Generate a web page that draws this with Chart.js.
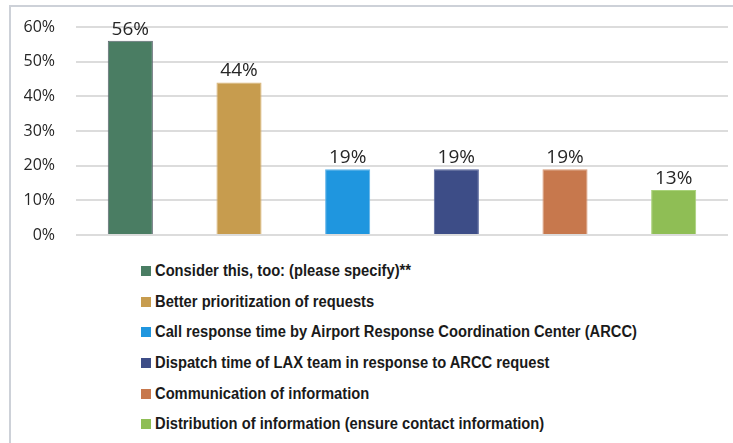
<!DOCTYPE html>
<html>
<head>
<meta charset="utf-8">
<script src="https://cdn.jsdelivr.net/npm/chart.js@4.4.1/dist/chart.umd.min.js"></script>
<style>
  html, body { margin: 0; padding: 0; background: #fff; }
  #wrap { position: relative; width: 733px; height: 443px; overflow: hidden; }
  #frame { position: absolute; left: 9px; top: 5px; width: 740px; height: 450px;
           border-top: 2px solid #cdd1d8; border-left: 2px solid #cdd1d8; }
  #barChart { position: absolute; left: 0; top: 0; }
  #legend { position: absolute; left: 141px; top: 256px; margin: 0; padding: 0; list-style: none; }
  #legend li { display: flex; align-items: center; height: 30.6px;
               font-family: "Liberation Sans Narrow", "Arial Narrow", "Liberation Sans", sans-serif;
               font-weight: bold; font-size: 16px; color: #1a1a1a; white-space: nowrap; }
  #legend .box { width: 10px; height: 10px; margin-right: 4px; flex: none; }
  #legend .txt { display: inline-block; transform: scaleX(0.92); transform-origin: left center; }
</style>
</head>
<body>
<div id="wrap">
  <div id="frame"></div>
  <canvas id="barChart" width="733" height="250"></canvas>
  <ul id="legend"></ul>
</div>
<script>
const categories = [
  "Consider this, too: (please specify)**",
  "Better prioritization of requests",
  "Call response time by Airport Response Coordination Center (ARCC)",
  "Dispatch time of LAX team in response to ARCC request",
  "Communication of information",
  "Distribution of information (ensure contact information)"
];
const percentValues = [56, 44, 19, 19, 19, 13];
const barColors = ["#4a7d63", "#c79c4e", "#1f96df", "#3d4d87", "#c7784d", "#8fbe55"];
const barBorders = ["#5d6670", "#d9b373", "#5fb3e8", "#55649a", "#d99a78", "#a9d27a"];
const yTicks = [0, 10, 20, 30, 40, 50, 60];

// one dataset per category so each bar gets its own legend entry
const datasets = categories.map((name, i) => ({
  label: name,
  data: categories.map((_, j) => j === i ? percentValues[i] : null),
  backgroundColor: barColors[i],
  borderColor: barBorders[i],
  borderWidth: 1,
  categoryPercentage: 0.83,
  barPercentage: 0.5,
  grouped: false
}));

const valueLabels = {
  id: "valueLabels",
  afterDatasetsDraw(chart) {
    const ctx = chart.ctx;
    ctx.save();
    ctx.font = "19px 'Open Sans', sans-serif";
    ctx.fillStyle = "#262626";
    ctx.textAlign = "center";
    ctx.textBaseline = "bottom";
    chart.data.datasets.forEach((ds, i) => {
      chart.getDatasetMeta(i).data.forEach((bar, j) => {
        if (ds.data[j] == null) return;
        ctx.fillText(ds.data[j] + "%", bar.x, bar.y - 2);
      });
    });
    ctx.restore();
  }
};

// html legend, one item per line
const htmlLegend = {
  id: "htmlLegend",
  afterUpdate(chart) {
    const ul = document.getElementById("legend");
    ul.innerHTML = "";
    const items = chart.options.plugins.legend.labels.generateLabels(chart);
    items.forEach(item => {
      const li = document.createElement("li");
      li.innerHTML = `<span class="box" style="background:${item.fillStyle}"></span><span class="txt">${item.text}</span>`;
      ul.appendChild(li);
    });
  }
};

new Chart(document.getElementById("barChart"), {
  type: "bar",
  data: { labels: categories, datasets },
  options: {
    responsive: false,
    animation: false,
    layout: { padding: { top: 27, right: 5, bottom: 15, left: 24 } },
    plugins: {
      legend: { display: false },
      tooltip: { enabled: false }
    },
    scales: {
      x: {
        ticks: { display: false },
        grid: { display: false, drawTicks: false },
        border: { display: false }
      },
      y: {
        min: 0,
        max: 60,
        afterBuildTicks(scale) { scale.ticks = yTicks.map(v => ({ value: v })); },
        afterFit(scale) { scale.width = 52; },
        ticks: {
          padding: 0,
          color: "#262626",
          font: { family: "'Open Sans', sans-serif", size: 16 },
          callback: v => v + "%"
        },
        // invisible tick marks give the gap between labels and plot
        grid: { color: "#dcdcdc", lineWidth: 2, drawTicks: true, tickLength: 21, tickColor: "rgba(0,0,0,0)" },
        border: { display: false }
      }
    }
  },
  plugins: [valueLabels, htmlLegend]
});
</script>
</body>
</html>
